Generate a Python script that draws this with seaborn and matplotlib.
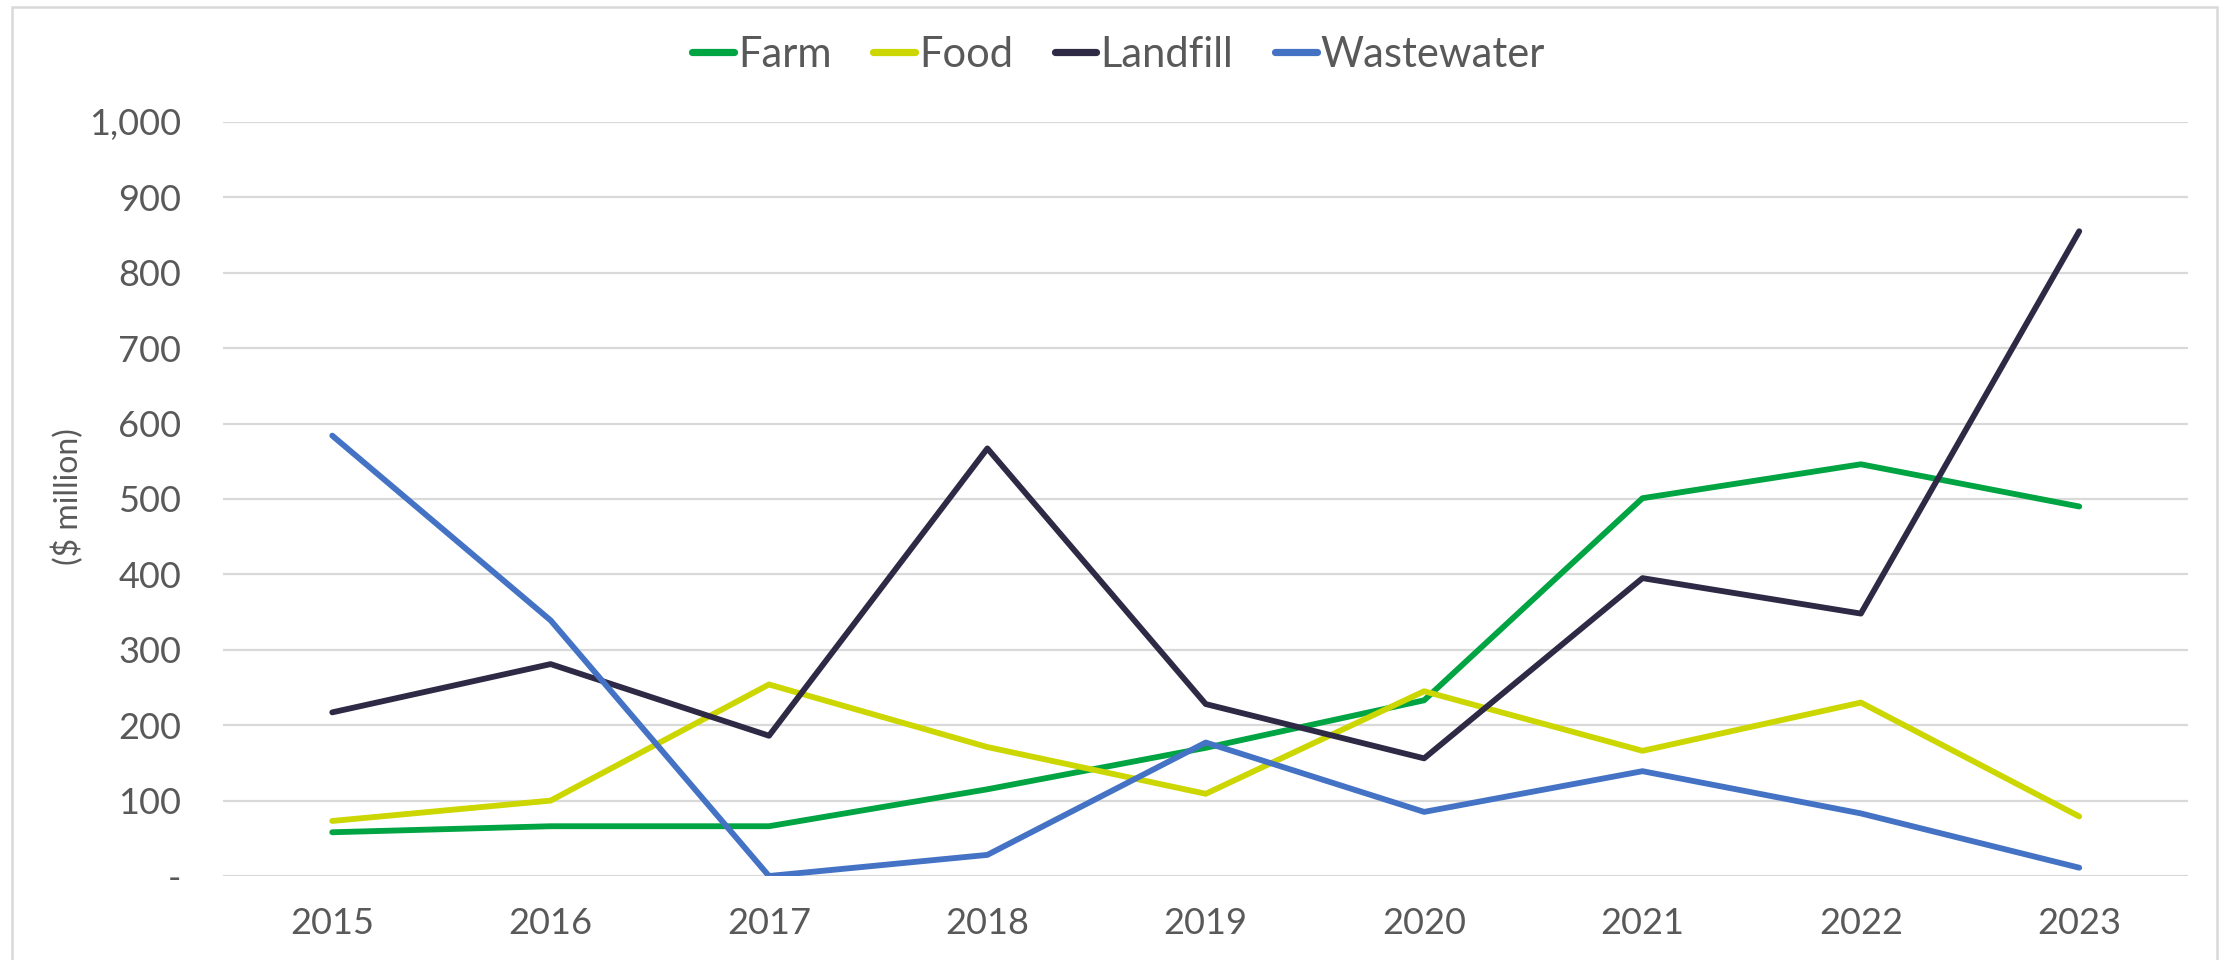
# Linjediagram: investering per kilde, 2015-2023
import pandas as pd
import matplotlib.pyplot as plt
import seaborn as sns
from matplotlib.patches import Rectangle
from matplotlib.ticker import FuncFormatter

years = [2015, 2016, 2017, 2018, 2019, 2020, 2021, 2022, 2023]
farm = [58, 66, 66, 115, 170, 233, 501, 546, 490]
food = [73, 100, 254, 171, 109, 245, 166, 230, 79]
landfill = [217, 281, 186, 567, 228, 156, 395, 348, 855]
wastewater = [584, 339, 0, 28, 177, 85, 139, 83, 11]

series_names = ["Farm", "Food", "Landfill", "Wastewater"]
colors = {"Farm": "#00A443", "Food": "#CCD600", "Landfill": "#2E2A45", "Wastewater": "#4472C4"}

df = pd.DataFrame({"year": years, "Farm": farm, "Food": food,
                   "Landfill": landfill, "Wastewater": wastewater})
df_long = df.melt(id_vars="year", var_name="series", value_name="value")

sns.set_theme(style="white")
plt.rcParams["font.family"] = ["Lato", "DejaVu Sans"]
text_grey = "#595959"

fig = plt.figure(figsize=(11.12, 4.8), dpi=200)
ax = fig.add_axes([0.1003, 0.0875, 0.984 - 0.1003, 0.873 - 0.0875])

sns.lineplot(data=df_long, x="year", y="value", hue="series", hue_order=series_names,
             palette=colors, linewidth=2.1, ax=ax, legend=False)

ax.set_xlim(2014.5, 2023.5)
ax.set_ylim(0, 1000)
ax.set_xticks(years)
ax.set_yticks(range(0, 1001, 100))
ax.yaxis.set_major_formatter(FuncFormatter(lambda v, p: "-" if v == 0 else f"{v:,.0f}"))
ax.tick_params(axis="both", length=0, labelsize=13, labelcolor=text_grey)
ax.tick_params(axis="y", pad=15)
ax.tick_params(axis="x", pad=11)
ax.grid(axis="y", color="#D9D9D9", linewidth=0.8)
ax.set_axisbelow(True)
for s in ax.spines.values():
    s.set_visible(False)
ax.set_xlabel("")
ax.set_ylabel("")
fig.text(68 / 2224, 1 - 497 / 960, "($ million)", rotation=90, ha="center", va="center",
         fontsize=11.5, color=text_grey)

# Legende øverst
handles = [plt.Line2D([], [], color=colors[n], linewidth=2.6) for n in series_names]
fig.legend(handles, series_names, loc="center", bbox_to_anchor=(0.503, 1 - 55 / 960),
           ncol=4, frameon=False, fontsize=15, labelcolor=text_grey,
           handlelength=1.0, handletextpad=0.1, columnspacing=1.0)

# Ramme rundt diagrammet
fig.patches.append(Rectangle((12 / 2224, -0.02), (2217 - 12) / 2224, 1.02 - 7 / 960,
                             transform=fig.transFigure, fill=False,
                             edgecolor="#D9D9D9", linewidth=0.9))

fig.savefig("out.png", dpi=200)
